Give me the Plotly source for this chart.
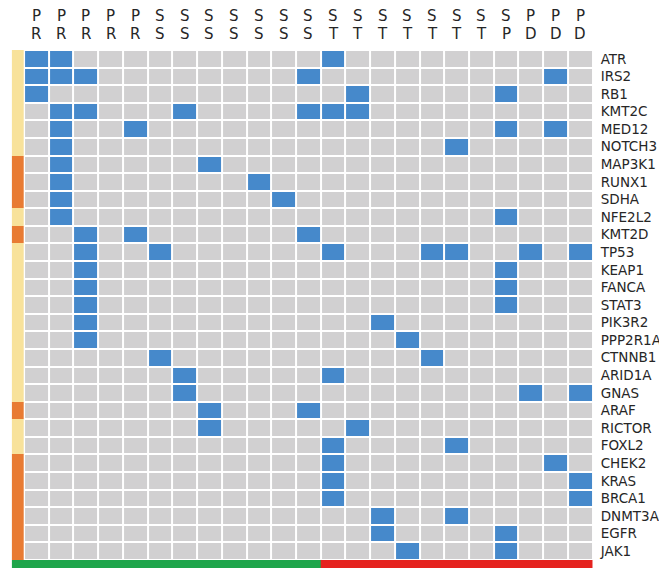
import plotly.graph_objects as go

# ---- data ----
col_line1 = ["P"] * 5 + ["S"] * 7 + ["S"] * 7 + ["S"] + ["P"] * 3
col_line2 = ["R"] * 5 + ["S"] * 7 + ["T"] * 7 + ["P"] + ["D"] * 3
col_group = [0] * 12 + [1] * 11  # 0 = green, 1 = red

genes = ["ATR", "IRS2", "RB1", "KMT2C", "MED12", "NOTCH3", "MAP3K1", "RUNX1",
         "SDHA", "NFE2L2", "KMT2D", "TP53", "KEAP1", "FANCA", "STAT3", "PIK3R2",
         "PPP2R1A", "CTNNB1", "ARID1A", "GNAS", "ARAF", "RICTOR", "FOXL2",
         "CHEK2", "KRAS", "BRCA1", "DNMT3A", "EGFR", "JAK1"]
gene_group = [0, 0, 0, 0, 0, 0, 1, 1, 1, 0, 1, 0, 0, 0, 0, 0, 0, 0, 0, 0,
              1, 0, 0, 1, 1, 1, 1, 1, 1]  # 0 = yellow, 1 = orange

mutated_cols = [
    [0, 1, 12],                 # ATR
    [0, 1, 2, 11, 21],          # IRS2
    [0, 13, 19],                # RB1
    [1, 2, 6, 11, 12, 13],      # KMT2C
    [1, 4, 19, 21],             # MED12
    [1, 17],                    # NOTCH3
    [1, 7],                     # MAP3K1
    [1, 9],                     # RUNX1
    [1, 10],                    # SDHA
    [1, 19],                    # NFE2L2
    [2, 4, 11],                 # KMT2D
    [2, 5, 12, 16, 17, 20, 22], # TP53
    [2, 19],                    # KEAP1
    [2, 19],                    # FANCA
    [2, 19],                    # STAT3
    [2, 14],                    # PIK3R2
    [2, 15],                    # PPP2R1A
    [5, 16],                    # CTNNB1
    [6, 12],                    # ARID1A
    [6, 20, 22],                # GNAS
    [7, 11],                    # ARAF
    [7, 13],                    # RICTOR
    [12, 17],                   # FOXL2
    [12, 21],                   # CHEK2
    [12, 22],                   # KRAS
    [12, 22],                   # BRCA1
    [14, 17],                   # DNMT3A
    [14, 19],                   # EGFR
    [15, 19],                   # JAK1
]

# ---- styles ----
GRAY = "#D1D0D1"
BLUE = "#4689CB"
YELLOW = "#F8E29B"
ORANGE = "#E87B33"
GREEN = "#1FA54B"
RED = "#E5231F"
TXT = "#262626"
OFF = 8                      # page body margin
W, H = 667 - OFF, 579 - OFF  # figure size inside the window

def fx(px):  # window pixel x -> paper fraction
    return (px - OFF) / W

def fy(py):  # window pixel y -> paper fraction (from bottom)
    return 1 - (py - OFF) / H

n_cols = len(col_line1)
n_rows = len(genes)

z_main = [[1 if c in mutated_cols[r] else 0 for c in range(n_cols)] for r in range(n_rows)]

bar_units = 8 / 17.586  # bottom bar thickness in row units

fig = go.Figure()

fig.add_trace(go.Heatmap(
    z=z_main, x=list(range(n_cols)), y=list(range(n_rows)),
    colorscale=[[0, GRAY], [1, BLUE]], zmin=0, zmax=1,
    xgap=2, ygap=2, showscale=False, hoverinfo="skip"))

# left gene-group bar
fig.add_trace(go.Heatmap(
    z=[[g] for g in gene_group], x=[-1, -0.5],
    y=[r - 0.5 for r in range(n_rows + 1)],
    colorscale=[[0, YELLOW], [1, ORANGE]], zmin=0, zmax=1,
    showscale=False, hoverinfo="skip"))

# bottom column-group bar
fig.add_trace(go.Heatmap(
    z=[[col_group[0]] + col_group],
    x=[-1] + [c - 0.5 for c in range(n_cols + 1)],
    y=[n_rows - 0.5, n_rows - 0.5 + bar_units],
    colorscale=[[0, GREEN], [1, RED]], zmin=0, zmax=1,
    showscale=False, hoverinfo="skip"))

for c in range(n_cols):
    fig.add_annotation(x=c, y=fy(15.5), xref="x", yref="paper", text=col_line1[c],
                       showarrow=False, yanchor="middle",
                       font=dict(family="DejaVu Sans", size=15, color=TXT))
    fig.add_annotation(x=c, y=fy(34.5), xref="x", yref="paper", text=col_line2[c],
                       showarrow=False, yanchor="middle",
                       font=dict(family="DejaVu Sans", size=15, color=TXT))

fig.update_layout(
    width=W, height=H,
    margin=dict(l=0, r=0, t=0, b=0, autoexpand=False),
    paper_bgcolor="white", plot_bgcolor="white",
    xaxis=dict(domain=[fx(11.7), fx(592.7)], range=[-1, n_cols - 0.5],
               showgrid=False, zeroline=False, showticklabels=False, fixedrange=True),
    yaxis=dict(domain=[fy(568), fy(50)],
               range=[n_rows - 0.5 + bar_units, -0.5],
               side="right", tickmode="array", tickvals=list(range(n_rows)),
               ticktext=genes, showgrid=False, zeroline=False, ticks="",
               ticklabelstandoff=7, automargin=False,
               tickfont=dict(family="DejaVu Sans", size=13.5, color=TXT)),
    showlegend=False,
)

fig.write_html("out.html")
